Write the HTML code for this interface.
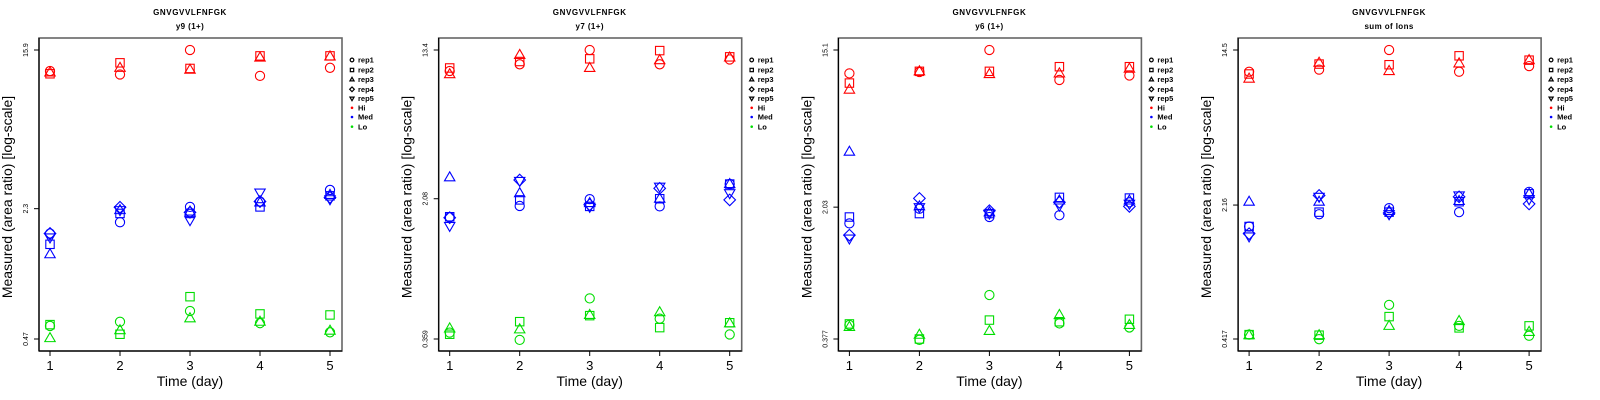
<!DOCTYPE html>
<html><head><meta charset="utf-8"><style>
html,body{margin:0;padding:0;background:#fff;}
svg{display:block;font-family:"Liberation Sans",sans-serif;}
</style></head><body>
<svg id="chart" width="1600" height="400" viewBox="0 0 1600 400" xmlns="http://www.w3.org/2000/svg"></svg>
<script>
// ---- data ----
const days = [1, 2, 3, 4, 5];
const panelTitles = ["y9 (1+)", "y7 (1+)", "y6 (1+)", "sum of Ions"];
const peptide = "GNVGVVLFNFGK";
const yMin = [0.47, 0.359, 0.377, 0.417];
const yMax = [15.9, 13.4, 15.1, 14.5];
const yMid = [2.3, 2.08, 2.03, 2.16];
const yTickLabels = [["0.47","2.3","15.9"],["0.359","2.08","13.4"],["0.377","2.03","15.1"],["0.417","2.16","14.5"]];
const groups = ["Hi", "Med", "Lo"];
const groupColors = ["#ff0000", "#0000ff", "#00dd00"];
const reps = ["rep1", "rep2", "rep3", "rep4", "rep5"];
// values[panel][group][rep][day]
const hiP1 = [[12.3,11.8,15.9,11.6,12.8],[11.9,13.6,12.7,14.8,14.8],[12.1,12.8,12.5,14.5,14.7]];
const medP1 = [[1.70,1.95,2.35,2.51,2.89],[1.49,2.17,2.17,2.35,2.69],[1.32,2.26,2.22,2.48,2.72],[1.70,2.34,2.20,2.51,2.64],[1.62,2.26,2.00,2.80,2.58]];
const loP1 = [[0.551,0.58,0.661,0.57,0.51],[0.56,0.498,0.787,0.638,0.63],[0.475,0.523,0.605,0.58,0.52]];
const hiP2 = [[10.3,11.2,13.4,11.2,11.9],[10.7,11.6,12.0,13.3,12.3],[9.9,12.6,10.7,11.8,12.2]];
const medP2 = [[1.65,1.90,2.07,1.89,2.50],[1.66,2.05,1.89,2.08,2.50],[2.72,2.23,1.97,2.08,2.50],[1.64,2.63,1.93,2.37,2.05],[1.48,2.60,1.88,2.42,2.23]];
const loP2 = [[0.389,0.355,0.597,0.463,0.38],[0.381,0.446,0.481,0.414,0.44],[0.41,0.405,0.485,0.502,0.437]];
const hiP3 = [[11.2,11.4,15.1,10.3,10.9],[9.9,11.5,11.5,12.2,12.2],[9.1,11.5,11.1,11.2,11.9]];
const medP3 = [[1.65,1.99,1.79,1.83,2.16],[1.79,1.87,1.87,2.30,2.28],[4.12,2.05,1.90,2.21,2.21],[1.42,2.27,1.94,2.16,2.05],[1.36,2.03,1.87,2.07,2.12]];
const loP3 = [[0.451,0.373,0.661,0.46,0.437],[0.457,0.377,0.48,0.47,0.485],[0.44,0.398,0.418,0.512,0.451]];
const hiP4 = [[11.1,11.4,14.5,11.1,11.9],[10.8,12.2,12.1,13.5,12.8],[10.2,12.4,11.2,12.3,12.8]];
const medP4 = [[1.66,1.93,2.08,1.98,2.54],[1.66,1.98,1.98,2.25,2.48],[2.25,2.25,2.01,2.27,2.48],[1.52,2.43,1.96,2.39,2.19],[1.47,2.39,1.93,2.43,2.32]];
const loP4 = [[0.44,0.416,0.634,0.49,0.434],[0.44,0.437,0.549,0.478,0.49],[0.437,0.437,0.49,0.52,0.455]];
const values = [[hiP1,medP1,loP1],[hiP2,medP2,loP2],[hiP3,medP3,loP3],[hiP4,medP4,loP4]];

// ---- drawing ----
const NS = "http://www.w3.org/2000/svg";
const svg = document.getElementById("chart");
function mk(tag, attrs, parent) {
  const e = document.createElementNS(NS, tag);
  for (const k in attrs) e.setAttribute(k, attrs[k]);
  (parent || svg).appendChild(e);
  return e;
}
const BOX_L = 39, BOX_R = 342, BOX_T = 38, BOX_B = 351;
const X1 = 50, X5 = 330, YTOP = 50, YBOT = 339;

function marker(g, shape, cx, cy, color) {
  let e;
  if (shape === 0) e = mk("circle", {cx: cx, cy: cy, r: 4.6}, g);
  else if (shape === 1) e = mk("rect", {x: cx - 4.2, y: cy - 4.2, width: 8.4, height: 8.4}, g);
  else if (shape === 2) e = mk("polygon", {points: `${cx},${cy-5.5} ${cx+5.2},${cy+3.5} ${cx-5.2},${cy+3.5}`}, g);
  else if (shape === 3) e = mk("polygon", {points: `${cx},${cy-5.8} ${cx+5.8},${cy} ${cx},${cy+5.8} ${cx-5.8},${cy}`}, g);
  else e = mk("polygon", {points: `${cx},${cy+5.5} ${cx+5.2},${cy-3.5} ${cx-5.2},${cy-3.5}`}, g);
  e.setAttribute("fill", "none");
  e.setAttribute("stroke", color);
  e.setAttribute("stroke-width", "1.1");
  return e;
}

for (let p = 0; p < 4; p++) {
  const ox = p * 399.7;
  const g = mk("g", {transform: `translate(${ox},0)`});
  
  
  const lmin = Math.log(yMin[p]), lmax = Math.log(yMax[p]);
  const ys = v => YBOT - (Math.log(v) - lmin) / (lmax - lmin) * (YBOT - YTOP);
  const xs = d => X1 + (d - 1) * (X5 - X1) / 4;

  const t1 = mk("text", {x: 190, y: 15, "text-anchor": "middle", "font-size": "8", "font-weight": "bold", "letter-spacing": "0.6"}, g);
  t1.textContent = peptide;
  
  
  const t2 = mk("text", {x: 190, y: 29, "text-anchor": "middle", "font-size": "8", "font-weight": "bold", "letter-spacing": "0.4"}, g);
  t2.textContent = panelTitles[p];
  
  

  // box
  const box = mk("rect", {x: BOX_L, y: BOX_T, width: BOX_R - BOX_L, height: BOX_B - BOX_T, fill: "none", stroke: "#666", "stroke-width": "1.6"}, g);
  
  
  mk("line", {x1: BOX_L, y1: BOX_B, x2: BOX_R, y2: BOX_B, stroke: "#000", "stroke-width": "1.2"}, g);
  mk("line", {x1: BOX_L, y1: BOX_T, x2: BOX_L, y2: BOX_B, stroke: "#000", "stroke-width": "1.2"}, g);

  // x ticks
  days.forEach(d => {
    const x = xs(d);
    mk("line", {x1: x, y1: BOX_B, x2: x, y2: BOX_B + 5, stroke: "#000", "stroke-width": "1"}, g);
    const tl = mk("text", {x: x, y: 370, "text-anchor": "middle", "font-size": "13"}, g);
    tl.textContent = d;
    
    
  });
  const xt = mk("text", {x: 190, y: 386, "text-anchor": "middle", "font-size": "14"}, g);
  xt.textContent = "Time (day)";
  
  

  // y ticks
  [yMin[p], yMid[p], yMax[p]].forEach((v, i) => {
    const y = ys(v);
    mk("line", {x1: BOX_L - 5, y1: y, x2: BOX_L, y2: y, stroke: "#000", "stroke-width": "1"}, g);
    const tl = mk("text", {x: 28, y: y, "text-anchor": "middle", "font-size": "7", transform: `rotate(-90 28 ${y})`}, g);
    tl.textContent = yTickLabels[p][i];
    
    
  });
  const yt = mk("text", {x: 12, y: 197, "text-anchor": "middle", "font-size": "14", transform: "rotate(-90 12 197)"}, g);
  yt.textContent = "Measured (area ratio) [log-scale]";
  
  

  // points
  values[p].forEach((grp, gi) => {
    const gg = mk("g", {}, g);
    
    
    grp.forEach((repVals, ri) => {
      repVals.forEach((v, di) => {
        const m = marker(gg, ri, xs(days[di]), ys(v), groupColors[gi]);
        
        
      });
    });
  });

  // legend
  const lg = mk("g", {}, g);
  
  
  const rowsY = [60, 70, 79.5, 89.3, 98.5, 107.8, 117, 126.7];
  reps.forEach((r, i) => {
    const s = marker(lg, i, 352, rowsY[i], "#000");
    s.setAttribute("transform", `translate(352 ${rowsY[i]}) scale(0.4) translate(-352 ${-rowsY[i]})`);
    s.setAttribute("stroke-width", "3");
    const t = mk("text", {x: 358, y: rowsY[i] + 2.6, "font-size": "7.5", "font-weight": "bold"}, lg);
    t.textContent = r;
    
    
  });
  groups.forEach((gname, i) => {
    const y = rowsY[5 + i];
    mk("circle", {cx: 352, cy: y, r: 1.3, fill: groupColors[i]}, lg);
    const t = mk("text", {x: 358, y: y + 2.6, "font-size": "7.5", "font-weight": "bold"}, lg);
    t.textContent = gname;
    
    
  });
}
</script>
</body></html>
